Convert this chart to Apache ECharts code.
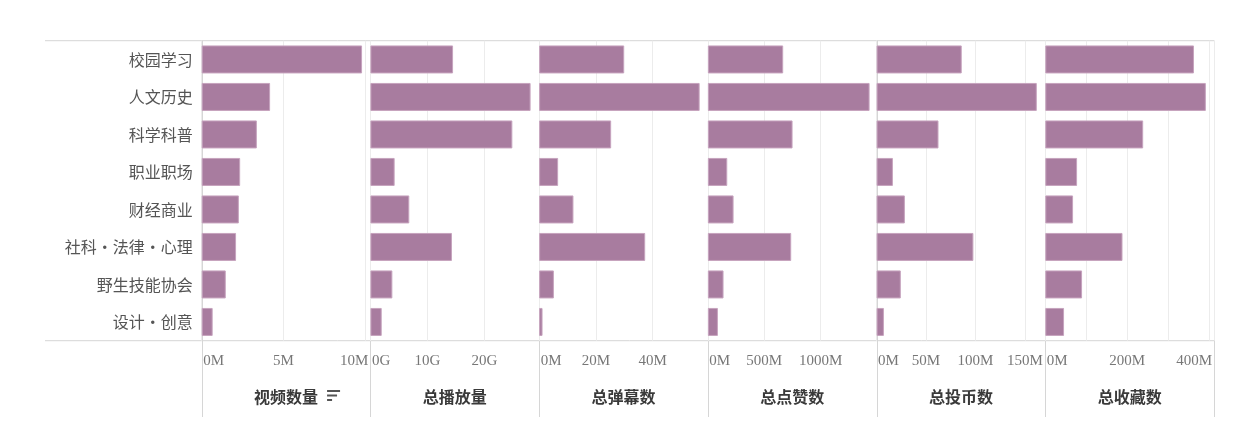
<!DOCTYPE html>
<html>
<head>
<meta charset="utf-8">
<script src="https://cdn.jsdelivr.net/npm/echarts@6/dist/echarts.min.js"></script>
<style>
html,body{margin:0;padding:0;background:#fff;}
#chart{width:1244px;height:430px;}
</style>
</head>
<body>
<div id="chart"></div>
<script>
// ---- data ----
const categories = ['校园学习', '人文历史', '科学科普', '职业职场', '财经商业', '社科·法律·心理', '野生技能协会', '设计·创意'];
const videoCountM = [9.80, 4.18, 3.37, 2.35, 2.27, 2.10, 1.47, 0.67];
const totalPlaysG = [14.5, 28.1, 24.9, 4.25, 6.82, 14.3, 3.85, 1.98];
const totalDanmakuM = [30.0, 56.6, 25.4, 6.7, 12.1, 37.4, 5.2, 1.2];
const totalLikesM = [668, 1434, 751, 172, 228, 739, 139, 89];
const totalCoinsM = [86.1, 162, 62.6, 16.5, 28.6, 97.9, 24.5, 7.4];
const totalFavoritesM = [363, 392, 239, 77.6, 67.8, 188.5, 89.8, 45.8];
const panelTitles = ['视频数量', '总播放量', '总弹幕数', '总点赞数', '总投币数', '总收藏数'];
const units = ['M', 'G', 'M', 'M', 'M', 'M'];
const gridSteps = [5, 10, 20, 500, 50, 100];
const labelSteps = [5, 10, 20, 500, 50, 200];
const axisMax = [10.31, 29.6, 59.5, 1496, 170.6, 412];

const seriesValues = [videoCountM, totalPlaysG, totalDanmakuM, totalLikesM, totalCoinsM, totalFavoritesM];

// ---- layout / style ----
const L0 = 201.7, PW = 168.72, TOP = 40.7, H = 300;
const BOTTOM = TOP + H;
const serif = '"Liberation Serif", "Times New Roman", serif';
const cjk = '"Noto Sans CJK SC", sans-serif';
const tickFont = 15;
const barColor = '#a87c9f';
const frameColor = '#d6d6d6';

const ctx = document.createElement('canvas').getContext('2d');
ctx.font = tickFont + 'px "Liberation Serif"';

function isMultiple(v, s) {
  const r = v / s;
  return Math.abs(r - Math.round(r)) < 1e-6;
}

const grids = [], xAxes = [], yAxes = [], series = [];
panelTitles.forEach((title, i) => {
  grids.push({ left: L0 + i * PW, width: PW, top: TOP, height: H });
  const rich = {};
  const keyOf = {};
  for (let v = 0; v <= axisMax[i] + 1e-9; v += labelSteps[i]) {
    const text = Math.round(v) + units[i];
    const w = ctx.measureText(text).width;
    const tick = v / axisMax[i] * PW;
    let padL = 0, padR = 0;
    const start = tick - w / 2, end = tick + w / 2;
    if (start < 1.5) padL = 2 * (1.5 - start);
    else if (end > PW - 2) padR = 2 * (end - (PW - 2));
    const key = 'k' + Math.round(v);
    keyOf[Math.round(v)] = key;
    rich[key] = { fontFamily: serif, fontSize: tickFont, color: '#777', padding: [0, padR, 0, padL] };
  }
  xAxes.push({
    type: 'value', gridIndex: i, min: 0, max: axisMax[i], interval: gridSteps[i],
    axisLine: { show: false }, axisTick: { show: false },
    splitLine: { show: true, lineStyle: { color: '#ececec', width: 1 } },
    axisLabel: {
      margin: 13, fontFamily: serif, fontSize: tickFont, color: '#777',
      showMinLabel: true, showMaxLabel: true, hideOverlap: false,
      formatter: function (v) {
        if (!isMultiple(v, labelSteps[i])) return '';
        const k = keyOf[Math.round(v)];
        if (!k) return '';
        return '{' + k + '|' + Math.round(v) + units[i] + '}';
      },
      rich: rich
    },
    name: title, nameLocation: 'middle', nameGap: 48,
    nameTextStyle: { fontFamily: cjk, fontSize: 16, color: '#3a3a3a', fontWeight: 'bold' }
  });
  yAxes.push({
    type: 'category', gridIndex: i, data: categories, inverse: true,
    axisLine: { show: false }, axisTick: { show: false }, splitLine: { show: false },
    axisLabel: { show: i === 0, margin: 9, fontFamily: cjk, fontSize: 16, color: '#555' }
  });
  series.push({
    type: 'bar', xAxisIndex: i, yAxisIndex: i, data: seriesValues[i], barWidth: 28,
    itemStyle: { color: barColor, borderColor: '#c6a3be', borderWidth: 1 },
    silent: true
  });
});

// frame lines
const graphics = [];
const lineStyle = { stroke: frameColor, lineWidth: 1 };
graphics.push({ type: 'line', shape: { x1: 45, y1: TOP, x2: L0 + 6 * PW, y2: TOP }, style: lineStyle, silent: true });
graphics.push({ type: 'line', shape: { x1: 45, y1: BOTTOM, x2: L0 + 6 * PW, y2: BOTTOM }, style: lineStyle, silent: true });
for (let i = 0; i <= 6; i++) {
  const x = Math.round(L0 + i * PW) + 0.5;
  graphics.push({ type: 'line', shape: { x1: x, y1: TOP, x2: x, y2: 417 }, style: lineStyle, silent: true });
}
// sort indicator next to first panel title
const iconX = L0 + PW / 2 + 41;
[[0, 13], [4.5, 10], [9, 5]].forEach(([dy, w]) => {
  graphics.push({ type: 'rect', shape: { x: iconX, y: 390 + dy, width: w, height: 2 }, style: { fill: '#555' }, silent: true });
});

const chart = echarts.init(document.getElementById('chart'), null, { renderer: 'canvas' });
chart.setOption({
  animation: false,
  backgroundColor: '#fff',
  grid: grids, xAxis: xAxes, yAxis: yAxes, series: series,
  graphic: graphics
});
</script>
</body>
</html>
